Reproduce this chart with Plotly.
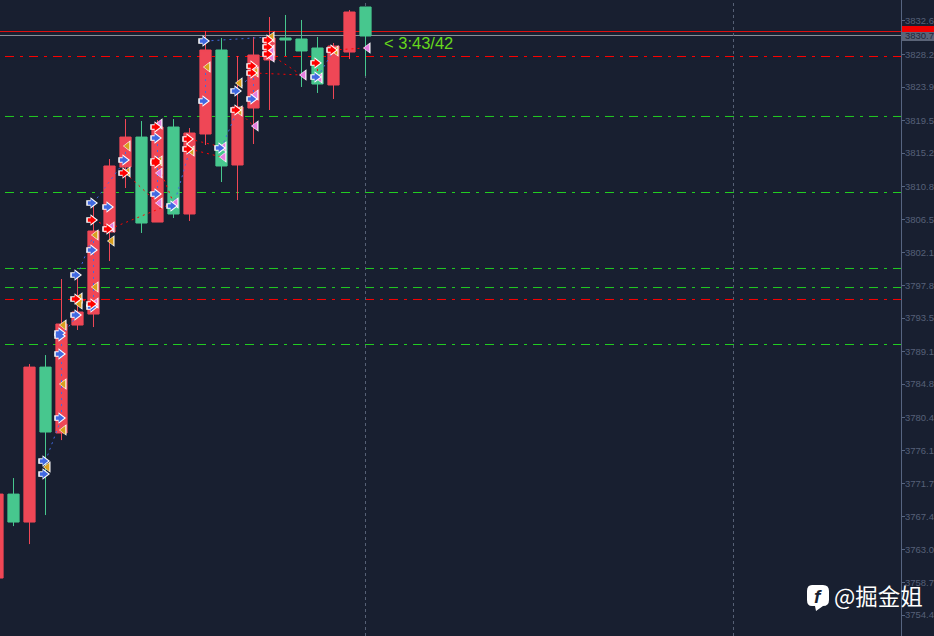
import plotly.graph_objects as go

W, H = 934, 636
candle_x = list(range(24))
opens  = [3759.27,3770.32,3766.64,3787.04,3778.36,3792.57,3794.02,3804.82,3813.37,3817.32,3806.13,3818.64,3807.19,3817.72,3828.78,3813.64,3821.14,3827.46,3830.36,3830.23,3829.04,3824.17,3828.51,3834.44]
highs  = [3770.32,3772.43,3787.44,3788.62,3798.63,3799.02,3808.64,3814.43,3819.69,3819.43,3819.56,3819.69,3818.51,3831.28,3830.36,3827.99,3830.49,3833.12,3833.39,3832.73,3830.49,3829.70,3834.04,3834.44]
lows   = [3759.27,3766.11,3763.74,3767.56,3777.43,3791.92,3792.31,3801.00,3810.61,3804.69,3806.13,3806.66,3806.27,3816.27,3811.40,3809.03,3816.40,3820.88,3827.99,3823.91,3823.12,3822.33,3827.59,3825.35]
closes = [3770.32,3766.64,3787.04,3778.49,3792.71,3794.29,3804.95,3813.51,3817.32,3806.00,3818.64,3807.19,3817.85,3828.78,3813.51,3821.27,3828.12,3830.36,3830.09,3828.65,3824.30,3829.30,3833.78,3830.62]

tick_vals = [3832.6,3828.2,3823.9,3819.5,3815.2,3810.8,3806.5,3802.1,3797.8,3793.5,3789.1,3784.8,3780.4,3776.1,3771.7,3767.4,3763.0,3758.7,3754.4]
tick_text = [f"{v:.1f}" for v in tick_vals]
last_price = 3830.7

solid_levels = [(3831.21, "#e01010"), (3830.69, "#8d929c")]
dashed_levels = [(3827.92, "#ff0000"), (3820.03, "#22cc22"), (3810.02, "#22cc22"), (3800.02, "#22cc22"),
                 (3797.51, "#22cc22"), (3795.94, "#ff0000"), (3790.01, "#22cc22")]
vertical_at = [23, 46]

blue_idx = [3,3,4,4,4,4,5,5,6,6,6,7,8,10,10,11,13,13,14,15,16,20]
blue_px  = [3774.67,3772.96,3791.52,3791.13,3788.76,3780.33,3799.16,3793.89,3808.64,3802.45,3794.94,3808.11,3814.30,3817.19,3809.82,3808.24,3829.96,3822.06,3815.88,3823.38,3822.33,3825.22]
red_idx  = [5,6,6,7,8,10,10,10,12,12,15,16,16,17,17,17,20,21]
red_px   = [3796.00,3806.40,3795.34,3805.21,3812.58,3818.64,3814.16,3813.90,3817.06,3815.74,3820.88,3826.67,3825.75,3830.09,3829.17,3828.25,3827.07,3828.78]
gold_idx = [3,4,4,4,5,5,6,6,7,8,8,10,12,13,15,15,16,17,21]
gold_px  = [3773.88,3792.57,3784.81,3778.75,3796.13,3795.34,3804.42,3797.58,3803.63,3816.14,3812.72,3814.16,3815.48,3826.54,3824.43,3820.75,3825.88,3830.49,3828.65]
pink_idx = [6,7,10,10,10,11,14,14,16,16,17,17,19,20,23]
pink_px  = [3795.47,3805.48,3819.04,3812.58,3808.64,3808.64,3816.01,3814.69,3818.77,3822.85,3828.78,3827.86,3825.49,3825.09,3829.04]

blue_links = [(3,3774.67,4,3780.33),(4,3780.33,4,3791.13),(4,3791.13,5,3793.89),(5,3799.16,6,3804.42),
              (6,3804.42,6,3795.34),(6,3808.64,8,3814.30),(8,3814.30,8,3816.14),(10,3817.19,10,3809.82),
              (11,3808.24,12,3815.48),(13,3829.96,17,3830.49),(13,3826.54,13,3822.06),(14,3815.88,15,3820.88),
              (15,3823.38,16,3825.88),(16,3825.88,16,3822.33),(20,3825.22,21,3828.65)]
red_links = [(5,3796.00,6,3795.47),(6,3806.40,7,3805.48),(7,3805.21,11,3808.64),(8,3812.58,10,3808.64),
             (10,3813.90,11,3808.64),(12,3817.06,14,3816.01),(12,3815.74,14,3814.69),(15,3820.88,16,3818.77),
             (16,3825.75,19,3825.49),(17,3828.25,19,3825.49),(20,3827.07,20,3825.09),(21,3828.78,23,3829.04)]

BG = "#181f30"
UP = "#ef4756"
DOWN = "#47c78e"
PLOT_W = 901
X_RANGE = [0.15625, 56.46875]
Y_RANGE = [3751.64, 3835.36]
PER_PX = 1 / 16


def link_xy(links):
    xs, ys = [], []
    for a, pa, b, pb in links:
        xs += [a, b, None]
        ys += [pa, pb, None]
    return xs, ys


def px(x):
    return x / PLOT_W


def py(y):
    return 1 - y / H


def add_markers(fig, idx, prices, color, symbol, shift_px, size):
    fig.add_trace(go.Scatter(
        x=[i + shift_px * PER_PX for i in idx], y=prices, mode="markers",
        showlegend=False, hoverinfo="skip",
        marker=dict(symbol=symbol, size=size, color=color, line=dict(width=0)),
    ))


fig = go.Figure()
fig.add_trace(go.Candlestick(
    x=candle_x, open=opens, high=highs, low=lows, close=closes,
    whiskerwidth=0,
    increasing=dict(line=dict(color=UP, width=1), fillcolor=UP),
    decreasing=dict(line=dict(color=DOWN, width=1), fillcolor=DOWN),
    hoverinfo="skip", showlegend=False,
))
for links, color in ((blue_links, "#4169e1"), (red_links, "#ff0000")):
    xs, ys = link_xy(links)
    fig.add_trace(go.Scatter(x=xs, y=ys, mode="lines", showlegend=False, hoverinfo="skip",
                             line=dict(color=color, width=1, dash="2px,4px")))

for idx, prices, color in ((gold_idx, gold_px, "#d9a01e"), (pink_idx, pink_px, "#e67ee0")):
    add_markers(fig, idx, prices, "#ffffff", "triangle-left", 2.5, 10)
    add_markers(fig, idx, prices, color, "triangle-left", 2, 7.5)
for idx, prices, color in ((blue_idx, blue_px, "#4169e1"), (red_idx, red_px, "#ff0000")):
    add_markers(fig, idx, prices, "#ffffff", "square", -4.5, 5.5)
    add_markers(fig, idx, prices, "#ffffff", "triangle-right", -0.5, 10)
    add_markers(fig, idx, prices, color, "square", -4, 3.5)
    add_markers(fig, idx, prices, color, "triangle-right", -1, 7.5)

shapes = []
for level, color in solid_levels:
    shapes.append(dict(type="line", xref="paper", yref="y", x0=0, x1=1, y0=level, y1=level,
                       layer="below", line=dict(color=color, width=1)))
for level, color in dashed_levels:
    shapes.append(dict(type="line", xref="paper", yref="y", x0=px(5), x1=1, y0=level, y1=level,
                       layer="below", line=dict(color=color, width=1, dash="9px,6px,3px,6px")))
for v in vertical_at:
    shapes.append(dict(type="line", xref="x", yref="paper", x0=v, x1=v, y0=0, y1=1,
                       layer="below", line=dict(color="#566075", width=1, dash="3px,3px")))
# axis price tags
shapes.append(dict(type="rect", xref="paper", yref="paper", x0=px(902), x1=px(934), y0=py(32), y1=py(26),
                   fillcolor="#f00000", line=dict(width=0), layer="below"))
shapes.append(dict(type="rect", xref="paper", yref="paper", x0=px(902), x1=px(934), y0=py(41), y1=py(32),
                   fillcolor="#5b6478", line=dict(width=0), layer="below"))
# watermark badge
badge = ("M {} {} L {} {} Q {} {} {} {} L {} {} Q {} {} {} {} L {} {} L {} {} L {} {} Q {} {} {} {} "
         "L {} {} Q {} {} {} {} Z").format(
    px(812), py(585), px(823), py(585), px(829), py(585), px(829), py(591),
    px(829), py(600), px(829), py(606), px(823), py(606),
    px(816), py(611), px(815), py(606), px(812), py(606), px(807), py(606), px(807), py(600),
    px(807), py(591), px(807), py(585), px(812), py(585),
)
shapes.append(dict(type="path", xref="paper", yref="paper", path=badge, fillcolor="#ffffff",
                   line=dict(width=0), layer="above"))

annotations = [
    dict(x=px(382), y=py(43), xref="paper", yref="paper", text="&lt; 3:43/42", showarrow=False,
         xanchor="left", yanchor="middle",
         font=dict(family="Liberation Sans", size=16.5, color="#66d81c")),
    dict(x=px(818), y=py(596), xref="paper", yref="paper", text="<b><i>f</i></b>", showarrow=False,
         xanchor="center", yanchor="middle", font=dict(family="Liberation Sans", size=19, color="#181f30")),
    dict(x=52.155, y=3757.04, xref="x", yref="y", text="@掘金姐", showarrow=False,
         xanchor="left", yanchor="middle", font=dict(family="Noto Sans CJK SC", size=22.5, color="#ffffff")),
]

fig.update_layout(
    width=W, height=H, autosize=False,
    margin=dict(l=0, r=W - PLOT_W, t=0, b=0, pad=0, autoexpand=False),
    paper_bgcolor=BG, plot_bgcolor=BG,
    showlegend=False, hovermode=False,
    boxgap=0.3, boxgroupgap=0,
    shapes=shapes, annotations=annotations,
    xaxis=dict(range=X_RANGE, visible=False, rangeslider=dict(visible=False), fixedrange=True, automargin=False),
    yaxis=dict(range=Y_RANGE, side="right", tickmode="array", automargin=False,
               tickvals=tick_vals + [last_price],
               ticktext=tick_text + [f'<span style="color:#20273a">{last_price:.1f}</span>'],
               ticklabelstandoff=-2,
               showgrid=False, zeroline=False, showline=True, linecolor="#566480", linewidth=1,
               ticks="outside", ticklen=3, tickcolor="#566480", tickwidth=1,
               tickfont=dict(family="Liberation Sans", size=9.5, color="#566078"), fixedrange=True),
)
fig.write_html("out.html", config={"displayModeBar": False},
               post_script="document.body.style.margin='0';document.body.style.overflow='hidden';")
